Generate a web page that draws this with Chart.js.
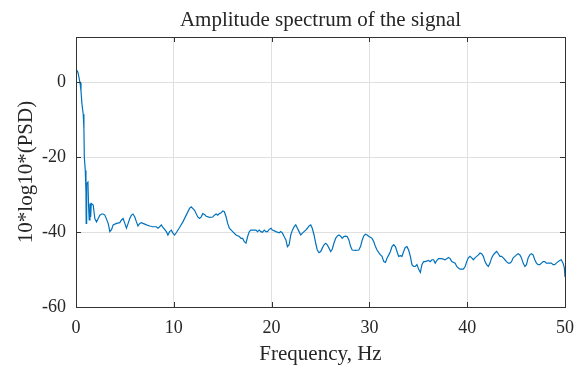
<!DOCTYPE html>
<html>
<head>
<meta charset="utf-8">
<script src="https://cdn.jsdelivr.net/npm/chart.js@4/dist/chart.umd.min.js"></script>
<style>
  html, body { margin: 0; padding: 0; background: #fff; }
  #wrap { width: 584px; height: 367px; }
</style>
</head>
<body>
<div id="wrap"><canvas id="psdChart" width="584" height="367"></canvas></div>
<script>
// values
const freq = [
  0.13, 0.23, 0.34, 0.41, 0.51, 0.61, 0.74, 0.81, 0.85, 0.95,
  1.02, 1.04, 1.09, 1.22, 1.29, 1.35, 1.43, 1.50, 1.56, 1.76,
  1.93, 2.10, 2.27, 2.44, 2.62, 2.78, 2.95, 3.29, 3.46, 3.64,
  3.80, 4.14, 4.48, 4.65, 4.82, 4.99, 5.16, 5.33, 5.50, 5.67,
  5.83, 6.01, 6.18, 6.34, 6.52, 6.69, 6.85, 7.20, 7.54, 7.87,
  8.22, 8.38, 8.55, 8.73, 8.89, 9.24, 9.40, 9.57, 9.75, 9.91,
  10.08, 10.25, 10.59, 10.93, 11.27, 11.61, 11.78, 12.12, 12.45, 12.63,
  12.80, 12.96, 13.14, 13.31, 13.65, 13.98, 14.15, 14.33, 14.49, 14.66,
  14.84, 15.00, 15.17, 15.35, 15.51, 15.68, 16.02, 16.36, 16.70, 16.87,
  17.04, 17.21, 17.38, 17.55, 17.72, 17.89, 18.05, 18.40, 18.56, 18.74,
  18.91, 19.07, 19.25, 19.42, 19.58, 19.76, 19.93, 20.09, 20.44, 20.77,
  20.94, 21.11, 21.28, 21.46, 21.62, 21.79, 21.96, 22.13, 22.30, 22.47,
  22.64, 22.81, 22.98, 23.15, 23.32, 23.49, 23.66, 23.83, 24.00, 24.16,
  24.34, 24.51, 24.67, 24.85, 25.02, 25.18, 25.36, 25.53, 25.69, 25.87,
  26.04, 26.20, 26.37, 26.55, 26.71, 26.88, 27.06, 27.22, 27.39, 27.57,
  27.73, 27.90, 28.08, 28.24, 28.58, 28.92, 29.09, 29.26, 29.43, 29.60,
  29.77, 29.94, 30.11, 30.27, 30.45, 30.62, 30.78, 30.96, 31.13, 31.29,
  31.47, 31.64, 31.80, 31.98, 32.15, 32.31, 32.48, 32.66, 32.82, 32.99,
  33.17, 33.33, 33.50, 33.67, 33.84, 34.01, 34.19, 34.35, 34.52, 34.69,
  34.86, 35.03, 35.21, 35.37, 35.54, 35.71, 36.05, 36.22, 36.39, 36.56,
  36.73, 36.89, 37.07, 37.41, 37.75, 37.91, 38.09, 38.26, 38.42, 38.77,
  38.93, 39.10, 39.27, 39.44, 39.61, 39.79, 39.95, 40.12, 40.29, 40.46,
  40.63, 40.80, 40.97, 41.14, 41.31, 41.48, 41.65, 41.82, 41.99, 42.16,
  42.33, 42.50, 42.67, 42.84, 43.01, 43.18, 43.35, 43.52, 43.69, 43.86,
  44.02, 44.20, 44.37, 44.53, 44.70, 44.88, 45.04, 45.21, 45.39, 45.55,
  45.72, 45.90, 46.06, 46.23, 46.40, 46.57, 46.74, 46.91, 47.08, 47.25,
  47.42, 47.59, 47.76, 47.93, 48.09, 48.27, 48.61, 48.78, 48.95, 49.11,
  49.29, 49.46, 49.62, 49.80, 49.93, 50.00
];
const psd = [
  3.1, 2.2, 0.7, -0.2, -2.4, -5.9, -8.6, -12.5, -20.0, -23.6,
  -29.3, -37.7, -27.1, -26.7, -33.3, -36.8, -32.4, -36.0, -32.4, -32.8,
  -36.5, -37.3, -36.4, -35.5, -35.2, -35.2, -35.5, -37.7, -39.9, -39.3,
  -38.1, -37.7, -37.5, -36.8, -36.4, -37.7, -39.0, -37.7, -36.4, -35.5,
  -35.2, -36.0, -37.3, -38.4, -37.7, -37.5, -37.7, -38.1, -38.4, -38.6,
  -38.6, -39.0, -38.6, -38.1, -38.8, -39.9, -40.8, -39.9, -39.5, -40.3,
  -40.8, -40.2, -38.8, -37.3, -35.5, -33.7, -33.3, -34.2, -36.0, -36.4,
  -36.0, -35.1, -35.3, -35.8, -36.1, -36.0, -35.5, -35.2, -35.5, -35.1,
  -34.9, -34.4, -34.6, -36.0, -37.7, -39.0, -39.9, -40.8, -41.2, -41.7,
  -41.7, -42.6, -43.0, -41.2, -39.9, -39.5, -39.5, -39.5, -39.9, -39.5,
  -39.9, -40.1, -39.5, -39.9, -39.9, -39.3, -39.0, -39.5, -39.9, -40.2,
  -39.9, -40.3, -41.2, -42.1, -43.9, -43.4, -40.8, -39.5, -38.6, -38.1,
  -39.0, -39.9, -40.8, -40.3, -39.9, -39.5, -39.0, -38.4, -38.1, -39.0,
  -40.8, -43.0, -44.8, -45.5, -45.2, -44.3, -43.4, -43.0, -43.4, -44.3,
  -45.2, -44.6, -43.0, -41.7, -41.1, -40.8, -41.1, -41.7, -41.2, -41.1,
  -41.2, -42.1, -43.9, -44.8, -44.9, -44.8, -43.9, -42.2, -41.0, -40.6,
  -40.8, -41.2, -41.4, -41.7, -42.6, -43.9, -44.8, -45.5, -46.1, -46.5,
  -47.9, -48.1, -47.0, -46.1, -45.2, -43.9, -43.4, -43.9, -45.2, -46.5,
  -46.3, -46.5, -45.2, -44.1, -43.9, -44.8, -46.5, -48.7, -49.2, -49.2,
  -48.7, -49.9, -50.8, -48.7, -47.9, -47.9, -47.6, -47.9, -47.4, -47.4,
  -48.3, -47.6, -47.1, -47.1, -47.4, -47.1, -46.8, -47.1, -47.9, -48.3,
  -49.2, -49.6, -49.9, -49.9, -49.9, -49.2, -47.9, -46.9, -46.5, -46.9,
  -47.4, -46.9, -46.5, -46.1, -45.6, -45.8, -46.5, -47.9, -48.7, -49.2,
  -48.3, -46.9, -46.1, -45.6, -45.2, -45.8, -46.5, -46.5, -46.9, -47.4,
  -47.9, -48.3, -48.3, -47.9, -46.9, -46.5, -46.1, -45.8, -46.1, -46.9,
  -48.3, -49.2, -48.7, -46.9, -46.1, -45.8, -46.1, -47.4, -48.3, -48.7,
  -48.7, -48.3, -47.9, -47.9, -48.3, -48.3, -48.3, -48.7, -48.7, -48.3,
  -47.9, -47.6, -47.4, -48.3, -49.5, -52.0
];
const xTicks = [0, 10, 20, 30, 40, 50];
const yTicks = [-60, -40, -20, 0];

const textColor = '#262626';
const axisColor = '#333333';
const serif = "'Liberation Serif', 'Times New Roman', serif";

// MATLAB-style tick marks pointing into the axes box
const innerTicks = {
  id: 'innerTicks',
  afterDraw(chart) {
    const ctx = chart.ctx;
    const area = chart.chartArea;
    const len = 5;
    ctx.save();
    ctx.strokeStyle = axisColor;
    ctx.lineWidth = 1;
    ctx.beginPath();
    chart.scales.x.ticks.forEach(t => {
      const px = Math.round(chart.scales.x.getPixelForValue(t.value)) + 0.5;
      ctx.moveTo(px, area.bottom); ctx.lineTo(px, area.bottom - len);
      ctx.moveTo(px, area.top); ctx.lineTo(px, area.top + len);
    });
    chart.scales.y.ticks.forEach(t => {
      const py = Math.round(chart.scales.y.getPixelForValue(t.value)) + 0.5;
      ctx.moveTo(area.left, py); ctx.lineTo(area.left + len, py);
      ctx.moveTo(area.right, py); ctx.lineTo(area.right - len, py);
    });
    ctx.stroke();
    ctx.restore();
  }
};

const ctx = document.getElementById('psdChart').getContext('2d');
new Chart(ctx, {
  type: 'line',
  data: {
    datasets: [{
      label: 'PSD',
      data: freq.map((f, i) => ({ x: f, y: psd[i] })),
      borderColor: '#0072BD',
      borderWidth: 1.2,
      pointRadius: 0,
      tension: 0,
      fill: false
    }]
  },
  options: {
    responsive: false,
    animation: false,
    devicePixelRatio: 1,
    layout: { padding: 0 },
    plugins: {
      legend: { display: false },
      tooltip: { enabled: false },
      title: { display: false }
    },
    scales: {
      x: {
        type: 'linear',
        position: 'bottom',
        min: 0,
        max: 50,
        afterBuildTicks: s => { s.ticks = xTicks.map(v => ({ value: v })); },
        afterFit: s => { s.height = 60; },
        ticks: {
          color: textColor,
          font: { family: serif, size: 18 },
          padding: 10,
          maxRotation: 0
        },
        grid: { color: '#e0e0e0', lineWidth: 1, drawTicks: false },
        border: { display: true, color: axisColor, width: 1 },
        title: {
          display: true,
          text: 'Frequency, Hz',
          color: textColor,
          font: { family: serif, size: 21 },
          padding: { top: 0, bottom: 0 }
        }
      },
      xTop: {
        type: 'linear',
        position: 'top',
        min: 0,
        max: 50,
        afterFit: s => { s.height = 37; },
        ticks: { display: false },
        grid: { display: false, drawTicks: false },
        border: { display: true, color: axisColor, width: 1 },
        title: {
          display: true,
          text: 'Amplitude spectrum of the signal',
          color: textColor,
          font: { family: serif, size: 21 },
          padding: { top: 8, bottom: 0 }
        }
      },
      y: {
        type: 'linear',
        position: 'left',
        min: -60,
        max: 12,
        afterBuildTicks: s => { s.ticks = yTicks.map(v => ({ value: v })); },
        afterFit: s => { s.width = 76; },
        ticks: {
          color: textColor,
          font: { family: serif, size: 18 },
          padding: 10
        },
        grid: { color: '#e0e0e0', lineWidth: 1, drawTicks: false },
        border: { display: true, color: axisColor, width: 1 },
        title: {
          display: true,
          text: '10*log10*(PSD)',
          color: textColor,
          font: { family: serif, size: 21 },
          padding: { top: 14, bottom: 0 }
        }
      },
      yRight: {
        type: 'linear',
        position: 'right',
        min: -60,
        max: 12,
        afterFit: s => { s.width = 17; },
        ticks: { display: false },
        grid: { display: false, drawTicks: false },
        border: { display: true, color: axisColor, width: 1 }
      }
    }
  },
  plugins: [innerTicks]
});
</script>
</body>
</html>
